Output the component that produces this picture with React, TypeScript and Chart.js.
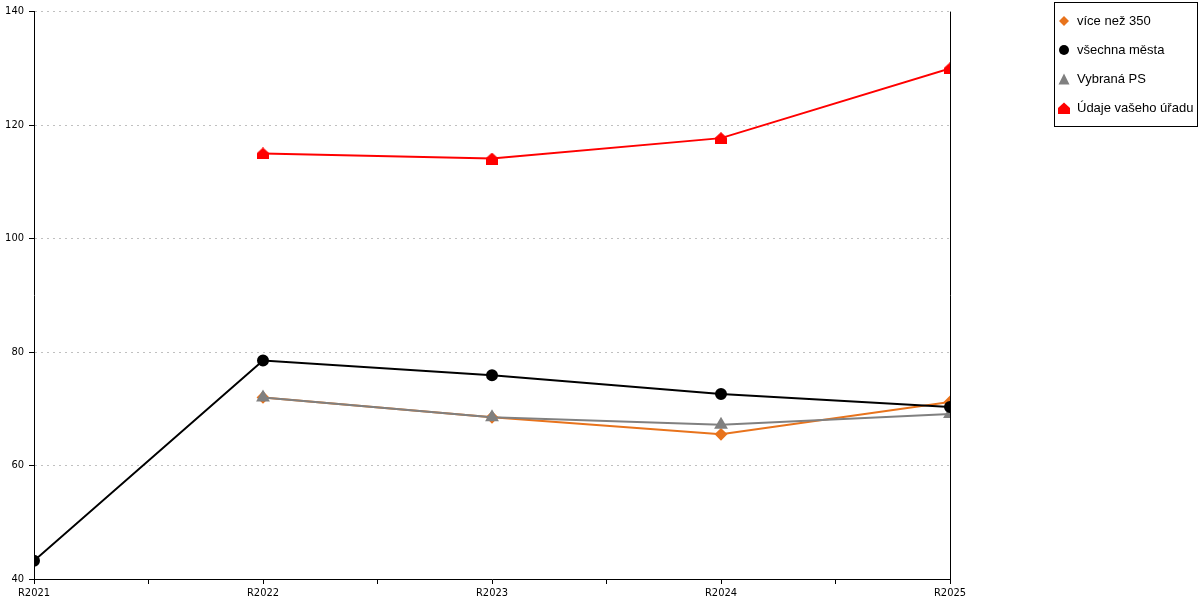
import React, { useEffect, useRef } from 'react';
import { Chart, registerables } from 'chart.js';

Chart.register(...registerables);

const categories = ['R2021', 'R2022', 'R2023', 'R2024', 'R2025'];
const viceNez350 = [null, 72.0, 68.5, 65.5, 71.2];
const vsechnaMesta = [43.2, 78.5, 75.9, 72.6, 70.3];
const vybranaPS = [null, 72.0, 68.5, 67.2, 69.1];
const udajeUradu = [null, 115.0, 114.1, 117.7, 130.0];
const seriesNames = ['více než 350', 'všechna města', 'Vybraná PS', 'Údaje vašeho úřadu'];
const seriesColors = ['#E8731C', '#000000', '#808080', '#FF0000'];
const yMin = 40;
const yMax = 140;
const yStep = 20;

const tickFont = "'DejaVu Sans Condensed', 'Liberation Sans', sans-serif";

function makeHouse(color: string): HTMLCanvasElement {
  const c = document.createElement('canvas');
  c.width = 12;
  c.height = 12;
  const ctx = c.getContext('2d')!;
  ctx.fillStyle = color;
  ctx.beginPath();
  ctx.moveTo(6, 0);
  ctx.lineTo(12, 5.5);
  ctx.lineTo(12, 12);
  ctx.lineTo(0, 12);
  ctx.lineTo(0, 5.5);
  ctx.closePath();
  ctx.fill();
  return c;
}

const rightBorder = {
  id: 'rightBorder',
  afterDatasetsDraw(chart: any) {
    const { ctx, chartArea } = chart;
    const x = Math.round(chartArea.right) + 0.5;
    ctx.save();
    ctx.strokeStyle = '#000';
    ctx.lineWidth = 1;
    ctx.beginPath();
    ctx.moveTo(x, chartArea.top);
    ctx.lineTo(x, chartArea.bottom);
    ctx.stroke();
    ctx.restore();
  },
};

function Marker({ i }: { i: number }) {
  const col = seriesColors[i];
  let shape: React.ReactNode;
  if (i === 0) shape = <polygon points="6,1 11,6 6,11 1,6" fill={col} />;
  else if (i === 1) shape = <circle cx="6" cy="6" r="5" fill={col} />;
  else if (i === 2) shape = <polygon points="6,0.5 11.5,11.5 0.5,11.5" fill={col} />;
  else shape = <polygon points="6,0.5 12,6 12,12 0,12 0,6" fill={col} />;
  return (
    <svg width="12" height="12" style={{ display: 'block', marginRight: 7 }}>
      {shape}
    </svg>
  );
}

export default function App() {
  const ref = useRef<HTMLCanvasElement>(null);

  useEffect(() => {
    if (!ref.current) return;
    const toXY = (arr: (number | null)[]) => arr.map((v, i) => ({ x: i, y: v }));
    const house = makeHouse(seriesColors[3]);
    const chart = new Chart(ref.current, {
      type: 'line',
      data: {
        datasets: [
          {
            label: seriesNames[0],
            data: toXY(viceNez350) as any,
            borderColor: seriesColors[0],
            backgroundColor: seriesColors[0],
            pointStyle: 'rectRot',
            pointRadius: 5,
            borderWidth: 2,
            order: 3,
          },
          {
            label: seriesNames[1],
            data: toXY(vsechnaMesta) as any,
            borderColor: seriesColors[1],
            backgroundColor: seriesColors[1],
            pointStyle: 'circle',
            pointRadius: 5,
            borderWidth: 2,
            order: 1,
          },
          {
            label: seriesNames[2],
            data: toXY(vybranaPS) as any,
            borderColor: seriesColors[2],
            backgroundColor: seriesColors[2],
            pointStyle: 'triangle',
            pointRadius: 6,
            borderWidth: 2,
            order: 2,
          },
          {
            label: seriesNames[3],
            data: toXY(udajeUradu) as any,
            borderColor: seriesColors[3],
            backgroundColor: seriesColors[3],
            pointStyle: house as any,
            pointRadius: 6,
            borderWidth: 2,
            order: 0,
          },
        ],
      },
      options: {
        animation: false,
        responsive: false,
        maintainAspectRatio: false,
        spanGaps: false,
        layout: { padding: { top: 8, right: 250, left: 0, bottom: 0 } },
        plugins: {
          legend: { display: false },
          tooltip: { enabled: false },
        },
        elements: { line: { tension: 0 }, point: { borderWidth: 1 } },
        scales: {
          x: {
            type: 'linear',
            min: 0,
            max: categories.length - 1,
            afterFit: (s: any) => {
              s.height = 21;
            },
            ticks: {
              stepSize: 0.5,
              autoSkip: false,
              maxRotation: 0,
              padding: 3,
              color: '#000',
              font: { family: tickFont, size: 11 },
              callback: (v: any) => (Number.isInteger(v) ? categories[v] : ''),
            },
            grid: {
              display: true,
              drawOnChartArea: false,
              drawTicks: true,
              tickLength: 5,
              tickColor: '#000',
              color: '#000',
            },
            border: { display: true, color: '#000', width: 1 },
          },
          y: {
            type: 'linear',
            min: yMin,
            max: yMax,
            afterFit: (s: any) => {
              s.width = 34;
            },
            ticks: {
              stepSize: yStep,
              padding: 5,
              color: '#000',
              font: { family: tickFont, size: 11 },
            },
            grid: {
              color: '#c0c0c0',
              drawTicks: true,
              tickLength: 5,
              tickColor: '#000',
              tickBorderDash: [1, 0],
            },
            border: { display: true, color: '#000', width: 1, dash: [2, 4] },
          },
        },
      },
      plugins: [rightBorder],
    });
    return () => chart.destroy();
  }, []);

  return (
    <div style={{ position: 'absolute', left: 0, top: 0, width: 1200, height: 600, background: '#fff' }}>
      <canvas ref={ref} width={1200} height={600} style={{ position: 'absolute', left: 0, top: 0 }} />
      <div
        style={{
          position: 'absolute',
          left: 1054,
          top: 2,
          width: 144,
          height: 125,
          border: '1px solid #000',
          boxSizing: 'border-box',
          fontFamily: "'Liberation Sans', sans-serif",
          fontSize: 13,
          color: '#000',
          paddingTop: 3,
          paddingLeft: 3,
        }}
      >
        {seriesNames.map((n, i) => (
          <div key={n} style={{ display: 'flex', alignItems: 'center', height: 29, whiteSpace: 'nowrap' }}>
            <Marker i={i} />
            <span>{n}</span>
          </div>
        ))}
      </div>
    </div>
  );
}
